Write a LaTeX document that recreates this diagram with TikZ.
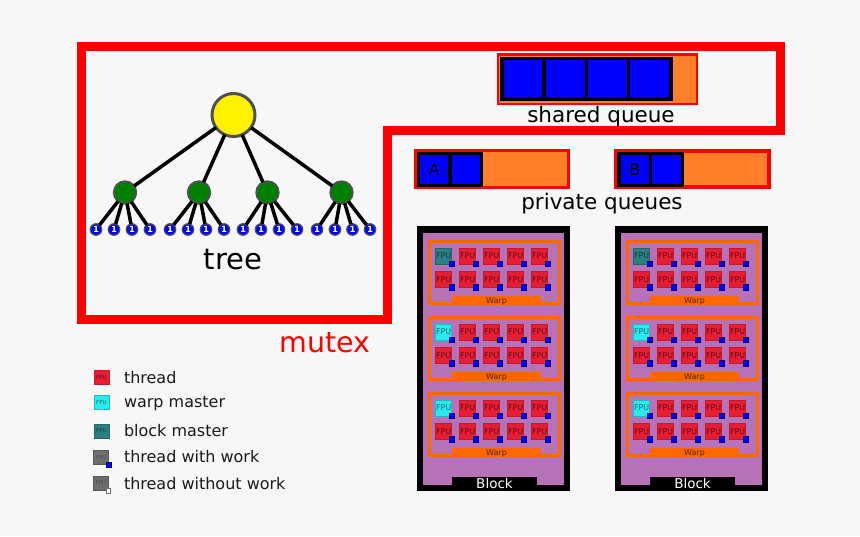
\documentclass[tikz,border=0pt]{standalone}
\usepackage{fontspec}
\setmainfont{DejaVu Sans}
\newcommand{\fsz}[1]{\fontsize{#1}{#1}\selectfont}
\definecolor{bg}{RGB}{247,247,247}
\definecolor{qorange}{RGB}{255,127,42}
\definecolor{warporange}{RGB}{255,102,0}
\definecolor{warptext}{RGB}{80,30,0}
\definecolor{blockpurple}{RGB}{183,113,183}
\definecolor{fpured}{RGB}{232,30,50}
\definecolor{fputext}{RGB}{100,10,20}
\definecolor{fputeal}{RGB}{44,128,132}
\definecolor{fputealtext}{RGB}{20,60,60}
\definecolor{fpucyan}{RGB}{40,235,240}
\definecolor{fpucyantext}{RGB}{20,110,120}
\definecolor{nodegray}{RGB}{80,80,80}
\definecolor{leggray}{RGB}{110,110,110}
\definecolor{tgreen}{RGB}{0,128,0}
\begin{document}
\begin{tikzpicture}[x=1pt,y=-1pt,
  every node/.style={inner sep=0pt, outer sep=0pt},
  mutexline/.style={draw=red, line width=9pt},
  treeedge/.style={draw=black, line width=3.5pt},
  rootnode/.style={circle, fill=yellow, draw=nodegray, line width=3pt, minimum size=43pt},
  midnode/.style={circle, fill=tgreen, draw=nodegray, line width=1.8pt, minimum size=22.5pt},
  leafnode/.style={circle, fill=blue, draw=nodegray, line width=1.2pt, minimum size=11.5pt, text=white, font=\fsz{8.5}\bfseries},
  qbox/.style={draw=red, fill=qorange},
  qitem/.style={draw=black, line width=3.5pt, fill=blue},
  qletter/.style={font=\fsz{16}, text=black},
  biglabel/.style={font=\fsz{21.5}, anchor=base},
  leglabel/.style={font=\fsz{16}, anchor=base west, text=black!90},
  fpu/.style={rectangle, minimum size=16.2pt, line width=0.8pt, draw=fpured!85!black, fill=fpured, text=fputext, font=\fsz{8}},
  fputealst/.style={fpu, fill=fputeal, draw=fputeal!80!black, text=fputealtext},
  fpucyanst/.style={fpu, fill=fpucyan, draw=fpucyan!80!black, text=fpucyantext},
  work/.style={rectangle, minimum size=5.4pt, line width=0.6pt, fill=blue, draw=blue!50!black},
  nowork/.style={rectangle, minimum size=4.6pt, line width=0.6pt, fill=white, draw=leggray},
  legicon/.style={rectangle, minimum width=15pt, minimum height=14pt, line width=0.6pt, font=\fsz{5.5}},
]
\fill[bg] (0,0) rectangle (860,536);
\useasboundingbox (0,0) rectangle (860,536);

% mutex outline
\draw[mutexline] (81,46) -- (780,46) -- (780,130) -- (387,130) -- (387,319) -- (81,319) -- cycle;
\node[font=\fsz{28.5}, text=red, anchor=base] (mutexlbl) at (325,352) {mutex};

% tree
\node[rootnode] (root) at (233.5,115) {};
\foreach \m/\mx in {1/125,2/199,3/267.5,4/341.5} {
  \node[midnode] (m\m) at (\mx,192.5) {};
}
\foreach \m/\a/\b/\c/\d in {1/96/114/132/150, 2/170/188/206/224, 3/243/261/279/297, 4/317/335/352.5/370} {
  \foreach \l/\lx in {1/\a,2/\b,3/\c,4/\d} {
    \node[leafnode] (l\m\l) at (\lx,229.5) {1};
    \draw[treeedge] (m\m) -- (l\m\l);
  }
  \draw[treeedge] (root) -- (m\m);
}
\node[font=\fsz{29}, anchor=base] (treelbl) at (233,269) {tree};

% shared queue
\draw[qbox, line width=2.5pt] (498,54.5) rectangle (697,104);
\foreach \k in {0,1,2,3} {
  \draw[qitem] (502+42.2*\k,58.5) rectangle (502+42.2*\k+42.2,99.2);
}
\node[biglabel] (sqlbl) at (601,122.5) {shared queue};

% private queues
\draw[qbox, line width=2.5pt] (415.3,150.3) rectangle (568.7,187.7);
\draw[qitem] (418.5,153.5) rectangle (450,185.5);
\draw[qitem] (450,153.5) rectangle (481.5,185.5);
\node[qletter] (qa) at (434.2,169.5) {A};
\draw[qbox, line width=3.5pt] (615.8,150.8) rectangle (768.9,187.2);
\draw[qitem] (619,153.5) rectangle (650.6,185.5);
\draw[qitem] (650.6,153.5) rectangle (682.3,185.5);
\node[qletter] (qb) at (634.8,169.5) {B};
\node[biglabel] (pqlbl) at (602,209) {private queues};

% blocks
\foreach \b/\dx in {1/0,2/198} {
  \begin{scope}[xshift=\dx]
    \fill[black] (417,226) rectangle (570,491);
    \fill[blockpurple] (423,232.5) rectangle (564,485);
    \fill[black] (452,477) rectangle (537,491);
    \node[text=white, font=\fsz{13.5}, anchor=base] (blk\b) at (494.5,488.5) {Block};
    \foreach \w in {0,1,2} {
      \pgfmathsetmacro\dy{76*\w}
      \draw[warporange, line width=3pt] (429.8,241.5+\dy) rectangle (559.2,303.5+\dy);
      \fill[warporange] (452,296+\dy) rectangle (541,305+\dy);
      \node[font=\fsz{8}, text=warptext, anchor=base] (wl\b\w) at (496.5,303+\dy) {Warp};
      \foreach \i in {0,...,4} {
        \foreach \j in {0,1} {
          \pgfmathsetmacro\fx{443.7+24*\i}
          \pgfmathsetmacro\fy{256+23.5*\j+\dy}
          \def\fst{fpu}
          \ifnum\i=0 \ifnum\j=0 \ifnum\w=0 \def\fst{fputealst}\else\def\fst{fpucyanst}\fi\fi\fi
          \node[\fst] (f\b\w\i\j) at (\fx,\fy) {FPU};
          \node[work] (k\b\w\i\j) at (\fx+7.9,\fy+7.9) {};
        }
      }
    }
  \end{scope}
}

% legend
\node[legicon, fill=fpured, draw=fpured!85!black, text=fputext] (lg1) at (101.5,377.5) {FPU};
\node[leglabel] (lt1) at (124,383) {thread};
\node[legicon, fill=fpucyan, draw=fpucyan!80!black, text=fpucyantext] (lg2) at (101.5,402.5) {FPU};
\node[leglabel] (lt2) at (124,407.5) {warp master};
\node[legicon, fill=fputeal, draw=fputeal!80!black, text=fputealtext] (lg3) at (101.5,430.8) {FPU};
\node[leglabel] (lt3) at (124,436) {block master};
\node[legicon, fill=leggray, draw=leggray!80!black, text=black!70] (lg4) at (101,457.3) {FPU};
\node[work, minimum size=5.2pt] (lw4) at (108.7,464.5) {};
\node[leglabel] (lt4) at (124,462.5) {thread with work};
\node[legicon, fill=leggray, draw=leggray!80!black, text=black!70] (lg5) at (101,483) {FPU};
\node[nowork] (lw5) at (108.4,490.5) {};
\node[leglabel] (lt5) at (124,489.5) {thread without work};
\end{tikzpicture}
\end{document}
